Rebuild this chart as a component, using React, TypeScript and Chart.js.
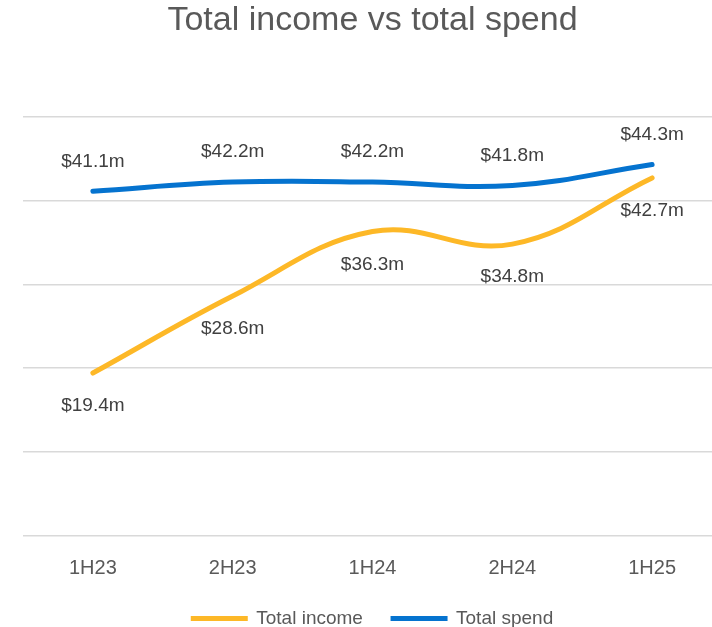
import React, { useEffect, useRef } from "react";
import { Chart, registerables } from "chart.js";
Chart.register(...registerables);

const categories = ["1H23", "2H23", "1H24", "2H24", "1H25"];
const totalIncome = [19.4, 28.6, 36.3, 34.8, 42.7];
const totalSpend = [41.1, 42.2, 42.2, 41.8, 44.3];
const seriesNames = ["Total income", "Total spend"];
const yMin = 0;
const yMax = 50;
const yStep = 10;

const FONT = "'Liberation Sans', Arial, sans-serif";
const INCOME_COLOR = "#FDB827";
const SPEND_COLOR = "#0573CF";

const labelPlugin = {
  id: "valueLabels",
  afterDatasetsDraw(chart: any) {
    const ctx = chart.ctx;
    ctx.save();
    ctx.font = `19px ${FONT}`;
    ctx.fillStyle = "#404040";
    ctx.textAlign = "center";
    ctx.textBaseline = "middle";
    chart.data.datasets.forEach((ds: any, i: number) => {
      const meta = chart.getDatasetMeta(i);
      const above = i === 1;
      meta.data.forEach((pt: any, j: number) => {
        const v = ds.data[j] as number;
        const y = above ? pt.y - 30 : pt.y + 33;
        ctx.fillText(`$${v.toFixed(1)}m`, pt.x, y);
      });
    });
    ctx.restore();
  },
};

export default function App() {
  const ref = useRef<HTMLCanvasElement | null>(null);
  useEffect(() => {
    if (!ref.current) return;
    const chart = new Chart(ref.current, {
      type: "line",
      data: {
        labels: categories,
        datasets: [
          {
            label: seriesNames[0],
            data: totalIncome,
            borderColor: INCOME_COLOR,
            backgroundColor: INCOME_COLOR,
            borderWidth: 5,
            borderCapStyle: "round",
            pointRadius: 0,
            tension: 0.4,
          },
          {
            label: seriesNames[1],
            data: totalSpend,
            borderColor: SPEND_COLOR,
            backgroundColor: SPEND_COLOR,
            borderWidth: 5,
            borderCapStyle: "round",
            pointRadius: 0,
            tension: 0.4,
          },
        ],
      },
      options: {
        animation: false,
        responsive: false,
        devicePixelRatio: 1,
        layout: { padding: { left: 23, right: 23, top: 0, bottom: 4 } },
        plugins: {
          title: {
            display: true,
            text: "Total income vs total spend",
            color: "#595959",
            font: { family: FONT, size: 34, weight: "normal" },
            padding: { top: 0, bottom: 76 },
          },
          legend: {
            position: "bottom",
            labels: {
              color: "#595959",
              font: { family: FONT, size: 19 },
              boxWidth: 55,
              boxHeight: 3,
              padding: 7.5,
              generateLabels(chart: any) {
                const items = Chart.defaults.plugins.legend.labels.generateLabels(chart);
                return items.map((it: any, i: number) => ({
                  ...it,
                  lineWidth: 2,
                  text: i === 0 ? it.text + "    " : it.text,
                }));
              },
            },
          },
          tooltip: { enabled: false },
        },
        scales: {
          x: {
            offset: true,
            grid: { display: false, drawTicks: false },
            border: { display: false },
            ticks: {
              color: "#595959",
              font: { family: FONT, size: 20 },
              padding: 21,
            },
          },
          y: {
            min: yMin,
            max: yMax,
            ticks: { stepSize: yStep, display: false },
            grid: { color: "#D9D9D9", lineWidth: 1.5, drawTicks: false },
            border: { display: false },
          },
        },
      },
      plugins: [labelPlugin],
    });
    return () => chart.destroy();
  }, []);
  return (
    <div
      style={{
        position: "absolute",
        left: 0,
        top: 0,
        width: 712,
        height: 627,
        overflow: "hidden",
        background: "#fff",
      }}
    >
      <canvas ref={ref} width={745} height={642} style={{ display: "block" }} />
    </div>
  );
}
